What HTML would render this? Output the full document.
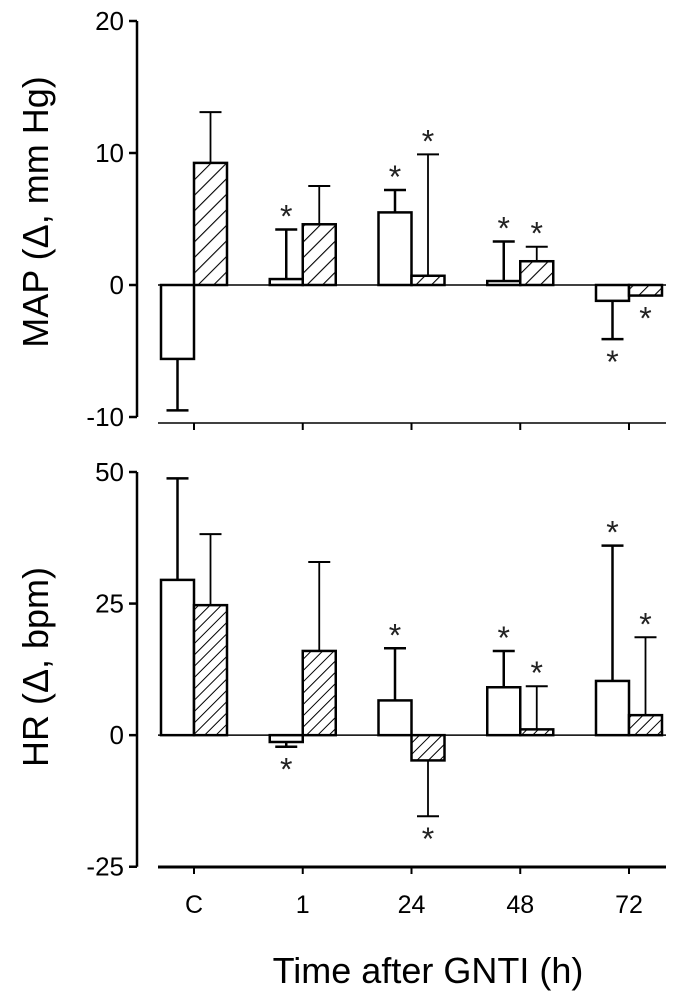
<!DOCTYPE html>
<html><head><meta charset="utf-8"><style>
html,body{margin:0;padding:0;background:#fff;}
svg{display:block;font-family:"Liberation Sans",Arial,sans-serif;}
</style></head><body>
<svg id="chart" width="677" height="1000" viewBox="0 0 677 1000" xmlns="http://www.w3.org/2000/svg">
<defs>
<pattern id="hatchTop" patternUnits="userSpaceOnUse" width="11" height="11" patternTransform="rotate(45)">
<rect width="11" height="11" fill="#fff"/>
<line x1="0" y1="0" x2="0" y2="11" stroke="#000" stroke-width="2.2"/>
</pattern>
<pattern id="hatchBot" patternUnits="userSpaceOnUse" width="8" height="8" patternTransform="rotate(45)">
<rect width="8" height="8" fill="#fff"/>
<line x1="0" y1="0" x2="0" y2="8" stroke="#000" stroke-width="2"/>
</pattern>
</defs>
<g id="root"></g>
</svg>
<script>
const categories = ["C","1","24","48","72"];
const mapOpen = [-5.6, 0.45, 5.5, 0.3, -1.2];
const mapOpenErr = [-9.5, 4.2, 7.2, 3.3, -4.1];
const mapHatch = [9.25, 4.6, 0.7, 1.8, -0.8];
const mapHatchErr = [13.1, 7.5, 9.9, 2.9, -0.8];
const mapOpenStar = ["", "up", "up", "up", "down"];
const mapHatchStar = ["", "", "up", "up", "down"];
const mapTicks = [20, 10, 0, -10];
const hrOpen = [29.5, -1.3, 6.6, 9.1, 10.3];
const hrOpenErr = [48.8, -2.2, 16.5, 16.0, 36.0];
const hrHatch = [24.7, 16.0, -4.8, 1.1, 3.8];
const hrHatchErr = [38.2, 32.9, -15.4, 9.3, 18.6];
const hrOpenStar = ["", "down", "up", "up", "up"];
const hrHatchStar = ["", "", "down", "up", "up"];
const hrTicks = [50, 25, 0, -25];

const NS = "http://www.w3.org/2000/svg";
const root = document.getElementById("root");
function mk(tag, attrs, parent) {
  const e = document.createElementNS(NS, tag);
  for (const k in attrs) e.setAttribute(k, attrs[k]);
  (parent || root).appendChild(e);
  return e;
}
function xCenter(i) { return 194 + i * 108.75; }
const barW = 33;

function panel(cfg) {
  const g = mk("g", {});
  
  
  const y = v => cfg.y0 + (cfg.max - v) * cfg.scale;
  const ax = mk("line", {x1: 137, y1: y(cfg.max), x2: 137, y2: y(cfg.min), stroke: "#000", "stroke-width": 2.5}, g);
  
  
  cfg.ticks.forEach(t => {
    const tl = mk("line", {x1: 129, y1: y(t), x2: 137, y2: y(t), stroke: "#000", "stroke-width": 2.5}, g);
    
    
    const tx = mk("text", {x: 124, y: y(t) + 9, "text-anchor": "end", "font-size": 26}, g);
    tx.textContent = t;
    
    
  });
  const xa = mk("line", {x1: 158, y1: cfg.xAxisY, x2: 666, y2: cfg.xAxisY, stroke: "#000", "stroke-width": cfg.xAxisW}, g);
  
  
  categories.forEach((c, i) => {
    const tk = mk("line", {x1: xCenter(i), y1: cfg.xAxisY, x2: xCenter(i), y2: cfg.xAxisY + 7, stroke: "#000", "stroke-width": 2}, g);
    
    
  });
  const z = mk("line", {x1: 158, y1: y(0), x2: 666, y2: y(0), stroke: "#000", "stroke-width": 1.5}, g);
  
  
  function bar(i, v, err, star, hatched) {
    const x0 = hatched ? xCenter(i) : xCenter(i) - barW;
    const cx = x0 + barW / 2;
    const top = Math.min(y(v), y(0)), h = Math.abs(y(v) - y(0));
    if (Math.abs(err - v) > 0.05) {
      const e1 = mk("line", {x1: cx, y1: y(v), x2: cx, y2: y(err), stroke: "#000", "stroke-width": hatched ? 1.8 : 2.5}, g);
      
      
      const e2 = mk("line", {x1: cx - 11, y1: y(err), x2: cx + 11, y2: y(err), stroke: "#000", "stroke-width": hatched ? 2 : 2.5}, g);
      
      
    }
    const r = mk("rect", {x: x0, y: top, width: barW, height: Math.max(h, 1), fill: hatched ? cfg.hatch : "#fff", stroke: "#000", "stroke-width": 2.5}, g);
    
    
    if (star) {
      const endY = (star === "up") ? Math.min(y(err), y(v), y(0)) - 2 : Math.max(y(err), y(v), y(0)) + 34;
      const s = mk("text", {x: cx, y: endY, "text-anchor": "middle", "font-size": 32, fill: "#222"}, g);
      s.textContent = "*";
      
      
    }
  }
  categories.forEach((c, i) => {
    bar(i, cfg.open[i], cfg.openErr[i], cfg.openStar[i], false);
    bar(i, cfg.hatchV[i], cfg.hatchErr[i], cfg.hatchStar[i], true);
  });
  const ttl = mk("text", {x: 0, y: 0, "text-anchor": "middle", "font-size": 36, transform: "translate(48," + cfg.titleY + ") rotate(-90)"}, g);
  ttl.textContent = cfg.title;
  
  
}

panel({name: "map-panel", y0: 21, max: 20, min: -10, scale: 13.2, xAxisY: 423, xAxisW: 1.5, hatch: "url(#hatchTop)",
  ticks: mapTicks, open: mapOpen, openErr: mapOpenErr, hatchV: mapHatch, hatchErr: mapHatchErr,
  openStar: mapOpenStar, hatchStar: mapHatchStar, title: "MAP (\u0394, mm Hg)", titleY: 212});
panel({name: "hr-panel", y0: 472, max: 50, min: -25, scale: 5.263, xAxisY: 867, xAxisW: 3, hatch: "url(#hatchBot)",
  ticks: hrTicks, open: hrOpen, openErr: hrOpenErr, hatchV: hrHatch, hatchErr: hrHatchErr,
  openStar: hrOpenStar, hatchStar: hrHatchStar, title: "HR (\u0394, bpm)", titleY: 667});

categories.forEach((c, i) => {
  const t = mk("text", {x: xCenter(i), y: 913, "text-anchor": "middle", "font-size": 25});
  t.textContent = c;
  
  
});
const xt = mk("text", {x: 428, y: 983, "text-anchor": "middle", "font-size": 36});
xt.textContent = "Time after GNTI (h)";


</script>
</body></html>
